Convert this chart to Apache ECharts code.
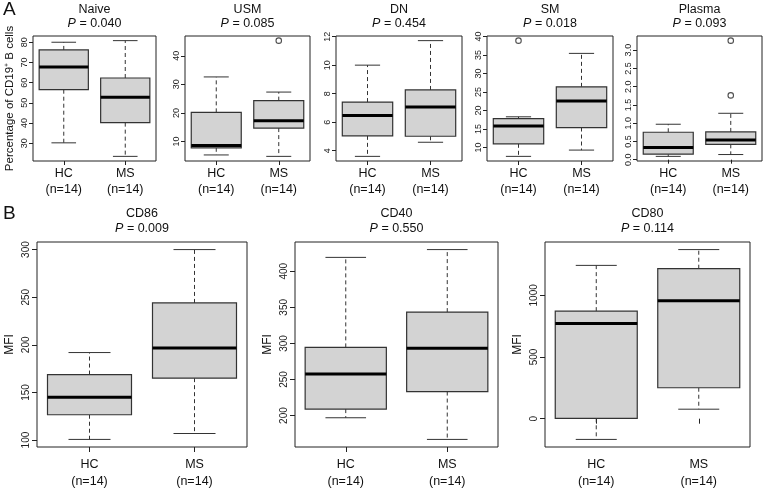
<!DOCTYPE html>
<html><head><meta charset="utf-8">
<script src="https://cdn.jsdelivr.net/npm/echarts@6/dist/echarts.min.js"></script>
<style>html,body{margin:0;padding:0;background:#fff}#c{width:766px;height:490px}</style>
</head><body><div id="c"></div>
<script>
// ---------- data ----------
const groups = ['HC', 'MS'];
const groupN = ['(n=14)', '(n=14)'];
const panelNames = ['Naive', 'USM', 'DN', 'SM', 'Plasma', 'CD86', 'CD40', 'CD80'];
const pValues = ['0.040', '0.085', '0.454', '0.018', '0.093', '0.009', '0.550', '0.114'];
// five-number summaries: [lower whisker, Q1, median, Q3, upper whisker]
const naiveHC = [30.2, 56.5, 67.8, 76.2, 80.0];
const naiveMS = [23.5, 40.2, 52.8, 62.3, 80.8];
const usmHC = [5.3, 7.8, 8.6, 20.2, 32.6];
const usmMS = [4.8, 14.7, 17.3, 24.3, 27.3];
const dnHC = [3.6, 5.04, 6.47, 7.41, 10.0];
const dnMS = [4.59, 5.01, 7.06, 8.26, 11.72];
const smHC = [7.6, 11.0, 15.8, 17.8, 18.3];
const smMS = [9.3, 15.4, 22.6, 26.4, 35.45];
const plasmaHC = [0.09, 0.15, 0.33, 0.75, 0.97];
const plasmaMS = [0.14, 0.42, 0.54, 0.76, 1.27];
const cd86HC = [100.7, 126.6, 145.0, 168.8, 191.9];
const cd86MS = [106.9, 165.0, 196.7, 244.0, 300.0];
const cd40HC = [197, 209, 257.5, 294.5, 419.2];
const cd40MS = [167, 233.3, 293.2, 343.4, 430];
const cd80HC = [-168, 3, 771, 872, 1243];
const cd80MS = [77, 251, 957, 1216, 1371];
// outliers
const naiveHCOut = [], naiveMSOut = [];
const usmHCOut = [], usmMSOut = [45.3];
const dnHCOut = [], dnMSOut = [];
const smHCOut = [38.9], smMSOut = [];
const plasmaHCOut = [], plasmaMSOut = [3.26, 1.76];
const cd86HCOut = [], cd86MSOut = [];
const cd40HCOut = [], cd40MSOut = [];
const cd80HCOut = [], cd80MSOut = [];
// y tick labels
const naiveTicks = [30, 40, 50, 60, 70, 80];
const usmTicks = [10, 20, 30, 40];
const dnTicks = [4, 6, 8, 10, 12];
const smTicks = [10, 15, 20, 25, 30, 35, 40];
const plasmaTicks = [0, 0.5, 1, 1.5, 2, 2.5, 3];
const cd86Ticks = [100, 150, 200, 250, 300];
const cd40Ticks = [200, 250, 300, 350, 400];
const cd80Ticks = [0, 500, 1000];
const yNames = ['Percentage of CD19\u207A B cells', '', '', '', '', 'MFI', 'MFI', 'MFI'];

// ---------- layout ----------
const panels = [
  {hc: naiveHC, ms: naiveMS, hcOut: naiveHCOut, msOut: naiveMSOut, ticks: naiveTicks, dec: 0, l: 33, r: 156, t: 36, b: 161, row: 0},
  {hc: usmHC, ms: usmMS, hcOut: usmHCOut, msOut: usmMSOut, ticks: usmTicks, dec: 0, l: 185, r: 310, t: 36, b: 161, row: 0},
  {hc: dnHC, ms: dnMS, hcOut: dnHCOut, msOut: dnMSOut, ticks: dnTicks, dec: 0, l: 336, r: 462, t: 36, b: 161, row: 0},
  {hc: smHC, ms: smMS, hcOut: smHCOut, msOut: smMSOut, ticks: smTicks, dec: 0, l: 487, r: 613, t: 36, b: 161, row: 0},
  {hc: plasmaHC, ms: plasmaMS, hcOut: plasmaHCOut, msOut: plasmaMSOut, ticks: plasmaTicks, dec: 1, l: 637, r: 762, t: 36, b: 161, row: 0},
  {hc: cd86HC, ms: cd86MS, hcOut: cd86HCOut, msOut: cd86MSOut, ticks: cd86Ticks, dec: 0, l: 37, r: 247, t: 242, b: 450, row: 1},
  {hc: cd40HC, ms: cd40MS, hcOut: cd40HCOut, msOut: cd40MSOut, ticks: cd40Ticks, dec: 0, l: 295, r: 498, t: 242, b: 450, row: 1},
  {hc: cd80HC, ms: cd80MS, hcOut: cd80HCOut, msOut: cd80MSOut, ticks: cd80Ticks, dec: 0, l: 545, r: 750, t: 242, b: 450, row: 1}
];
const rowStyle = [
  {ySize: 9, yMargin: 4, xMargin: 5, lineH: 16, tick: 4, nameGap: 17, nameSize: 11.5, titleY: [10, 24]},
  {ySize: 10, yMargin: 6, xMargin: 9, lineH: 17, tick: 5, nameGap: 21, nameSize: 12, titleY: [214, 229]}
];
const FONT = "'Liberation Sans', Arial, Helvetica, sans-serif";
const INK = '#222';

const grid = [], xAxis = [], yAxis = [], series = [], graphic = [];

function renderBox(params, api) {
  const x = api.value(0);
  const lo = api.coord([x, api.value(1)]);
  const q1 = api.coord([x, api.value(2)]);
  const med = api.coord([x, api.value(3)]);
  const q3 = api.coord([x, api.value(4)]);
  const hi = api.coord([x, api.value(5)]);
  const bw = api.size([1, 0])[0] * 0.8;
  const cx = lo[0], half = bw / 2, cap = bw / 4;
  const dash = {stroke: '#333', lineWidth: 1, lineDash: [4, 3]};
  const solid = {stroke: '#333', lineWidth: 1};
  return {type: 'group', children: [
    {type: 'line', shape: {x1: cx, y1: q3[1], x2: cx, y2: hi[1]}, style: dash},
    {type: 'line', shape: {x1: cx, y1: q1[1], x2: cx, y2: lo[1]}, style: dash},
    {type: 'line', shape: {x1: cx - cap, y1: hi[1], x2: cx + cap, y2: hi[1]}, style: solid},
    {type: 'line', shape: {x1: cx - cap, y1: lo[1], x2: cx + cap, y2: lo[1]}, style: solid},
    {type: 'rect', shape: {x: cx - half, y: q3[1], width: bw, height: q1[1] - q3[1]},
      style: {fill: '#d3d3d3', stroke: '#333', lineWidth: 1.2}},
    {type: 'line', shape: {x1: cx - half, y1: med[1], x2: cx + half, y2: med[1]},
      style: {stroke: '#000', lineWidth: 3}}
  ]};
}

panels.forEach((p, i) => {
  const rs = rowStyle[p.row];
  const all = [].concat(p.hc, p.ms, p.hcOut, p.msOut);
  const lo = Math.min(...all), hi = Math.max(...all), pad = (hi - lo) * 0.04;
  grid.push({left: p.l, top: p.t, width: p.r - p.l, height: p.b - p.t,
    show: true, borderColor: INK, borderWidth: 1, backgroundColor: 'transparent'});
  xAxis.push({type: 'category', gridIndex: i, data: groups, boundaryGap: true,
    axisLine: {show: false},
    axisTick: {show: true, alignWithLabel: true, inside: false, length: rs.tick, lineStyle: {color: INK}},
    axisLabel: {margin: rs.xMargin, fontSize: 12.5, lineHeight: rs.lineH, color: '#111', fontFamily: FONT,
      formatter: (v, k) => v + '\n' + groupN[k]},
    splitLine: {show: false}});
  yAxis.push({type: 'value', gridIndex: i, min: lo - pad, max: hi + pad,
    name: yNames[i], nameLocation: 'middle', nameGap: rs.nameGap,
    nameTextStyle: {fontSize: rs.nameSize, color: '#111', fontFamily: FONT},
    axisLine: {show: false},
    axisTick: {show: true, inside: false, length: rs.tick, customValues: p.ticks, lineStyle: {color: INK}},
    axisLabel: {show: true, rotate: 90, margin: rs.yMargin, fontSize: rs.ySize, color: '#222', fontFamily: FONT,
      customValues: p.ticks, formatter: v => Number(v).toFixed(p.dec)},
    splitLine: {show: false}});
  series.push({type: 'custom', xAxisIndex: i, yAxisIndex: i, renderItem: renderBox,
    encode: {x: 0, y: [1, 2, 3, 4, 5]}, silent: true,
    data: [[0].concat(p.hc), [1].concat(p.ms)]});
  const outs = p.hcOut.map(v => [0, v]).concat(p.msOut.map(v => [1, v]));
  if (outs.length) {
    series.push({type: 'scatter', xAxisIndex: i, yAxisIndex: i, symbol: 'circle', symbolSize: 5.5,
      itemStyle: {color: '#fff', borderColor: '#222', borderWidth: 1.1}, silent: true, data: outs});
  }
  const cx = (p.l + p.r) / 2;
  graphic.push({type: 'text', x: cx, y: rs.titleY[0],
    style: {text: panelNames[i], align: 'center', verticalAlign: 'middle', fontSize: 12.5, fill: '#111', fontFamily: FONT}});
  graphic.push({type: 'text', x: cx, y: rs.titleY[1],
    style: {text: '{i|P} = ' + pValues[i], align: 'center', verticalAlign: 'middle', fontSize: 12.5, fill: '#111', fontFamily: FONT,
      rich: {i: {fontStyle: 'italic', fontSize: 12.5, fill: '#111', fontFamily: FONT}}}});
});
graphic.push({type: 'text', x: 3, y: 10, style: {text: 'A', verticalAlign: 'middle', fontSize: 19, fill: '#111', fontFamily: FONT}});
graphic.push({type: 'text', x: 3, y: 214, style: {text: 'B', verticalAlign: 'middle', fontSize: 19, fill: '#111', fontFamily: FONT}});

const chart = echarts.init(document.getElementById('c'), null, {renderer: 'canvas'});
chart.setOption({animation: false, backgroundColor: '#fff', grid, xAxis, yAxis, series, graphic});
</script></body></html>
